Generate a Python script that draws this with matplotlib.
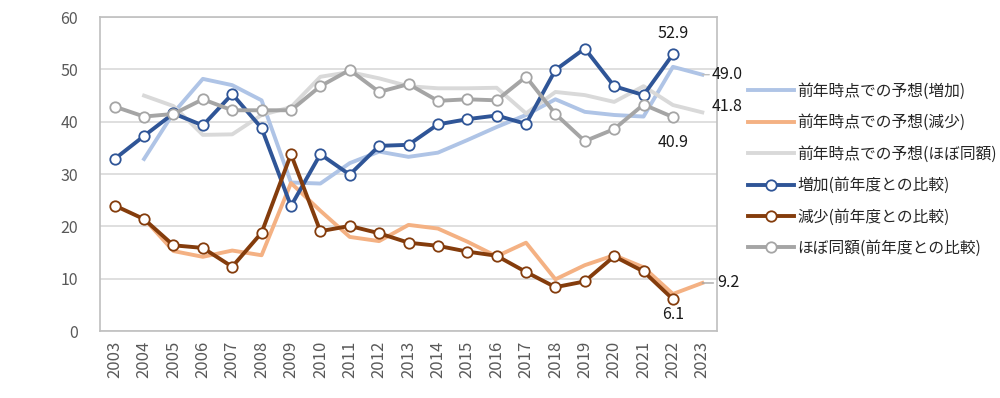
import matplotlib
matplotlib.use("Agg")
import matplotlib.pyplot as plt

plt.rcParams['font.family'] = ['Noto Sans CJK JP', 'DejaVu Sans']

years = list(range(2003, 2024))
year_labels = [str(y) for y in years]

# forecasts made in previous year (start 2004)
fc_years = list(range(2004, 2024))
fc_increase = [32.9, 41.7, 48.2, 47.0, 44.1, 28.4, 28.2, 32.1, 34.3, 33.3, 34.1, 36.5, 39.0, 41.3,
               44.3, 41.9, 41.3, 41.0, 50.5, 49.0]
fc_decrease = [21.5, 15.3, 14.2, 15.4, 14.5, 28.3, 23.0, 18.0, 17.2, 20.3, 19.6, 17.1, 14.3, 16.9,
               9.9, 12.6, 14.5, 12.2, 7.1, 9.2]
fc_same = [45.0, 43.0, 37.5, 37.6, 41.3, 42.8, 48.6, 49.5, 48.3, 46.8, 46.4, 46.4, 46.5, 41.6,
           45.7, 45.1, 43.8, 46.8, 43.2, 41.8]

# actual results (2003-2022)
act_years = list(range(2003, 2023))
act_increase = [32.9, 37.3, 41.6, 39.3, 45.3, 38.8, 23.9, 33.8, 29.9, 35.4, 35.6, 39.5, 40.5, 41.2,
                39.6, 49.9, 54.0, 46.8, 45.1, 52.9]
act_decrease = [24.0, 21.4, 16.4, 15.9, 12.3, 18.8, 33.8, 19.1, 20.1, 18.7, 16.9, 16.3, 15.2, 14.4,
                11.3, 8.4, 9.5, 14.3, 11.4, 6.1]
act_same = [42.9, 41.0, 41.5, 44.3, 42.2, 42.2, 42.2, 46.8, 49.9, 45.7, 47.2, 44.0, 44.3, 44.1,
            48.6, 41.5, 36.3, 38.6, 43.3, 40.9]

names = ['前年時点での予想(増加)', '前年時点での予想(減少)', '前年時点での予想(ほぼ同額)',
         '増加(前年度との比較)', '減少(前年度との比較)', 'ほぼ同額(前年度との比較)']
colors = ['#AFC4E6', '#F4B183', '#D9D9D9', '#2F5597', '#843C0C', '#A5A5A5']

fig = plt.figure(figsize=(10, 3.98), dpi=100)
ax = fig.add_axes([0.100, 0.168, 0.617, 0.789])

lw = 2.8
ax.plot(fc_years, fc_increase, color=colors[0], lw=lw, label=names[0], zorder=2)
ax.plot(fc_years, fc_decrease, color=colors[1], lw=lw, label=names[1], zorder=2)
ax.plot(fc_years, fc_same, color=colors[2], lw=lw, label=names[2], zorder=2)
mk = dict(marker='o', markersize=7.5, markerfacecolor='white', markeredgewidth=1.3)
ax.plot(act_years, act_increase, color=colors[3], lw=lw, label=names[3], markeredgecolor=colors[3], zorder=3, **mk)
ax.plot(act_years, act_decrease, color=colors[4], lw=lw, label=names[4], markeredgecolor=colors[4], zorder=3, **mk)
ax.plot(act_years, act_same, color=colors[5], lw=lw, label=names[5], markeredgecolor=colors[5], zorder=3, **mk)

ax.set_xlim(2002.5, 2023.5)
ax.set_ylim(0, 60)
ax.set_yticks(range(0, 61, 10))
ax.set_xticks(years)
ax.set_xticklabels(year_labels, rotation=90)
ax.grid(axis='y', color='#D9D9D9', lw=1.2)
ax.set_axisbelow(True)
for s in ax.spines.values():
    s.set_color('#BFBFBF')
    s.set_linewidth(1.2)
ax.tick_params(length=0, colors='#595959')
ax.tick_params(axis='x', labelsize=12, pad=7)
ax.tick_params(axis='y', labelsize=11.5, pad=16)

lab = dict(fontsize=11.5, color='#1a1a1a', zorder=5)
ax.annotate('52.9', (2022, act_increase[-1]), xytext=(0, 9), textcoords='offset points', ha='center', va='bottom', **lab)
ax.annotate('40.9', (2022, act_same[-1]), xytext=(0, -12), textcoords='offset points', ha='center', va='top', **lab)
ax.annotate('6.1', (2022, act_decrease[-1]), xytext=(0, -5), textcoords='offset points', ha='center', va='top', **lab)
ax.annotate('49.0', (2023, fc_increase[-1]), xytext=(7, 0), textcoords='offset points', ha='left', va='center',
            annotation_clip=False, arrowprops=dict(arrowstyle='-', color='#BFBFBF', lw=1, shrinkA=0, shrinkB=0), **lab)
ax.annotate('41.8', (2023, fc_same[-1]), xytext=(7, 4), textcoords='offset points', ha='left', va='center',
            annotation_clip=False, **lab)
ax.annotate('9.2', (2023, fc_decrease[-1]), xytext=(11, 0), textcoords='offset points', ha='left', va='center',
            annotation_clip=False, arrowprops=dict(arrowstyle='-', color='#A5A5A5', lw=1, shrinkA=1, shrinkB=0), **lab)

leg = fig.legend(loc='upper left', bbox_to_anchor=(0.742, 0.808), frameon=False, fontsize=11.3,
                 handlelength=2.9, handletextpad=0.2, labelspacing=0.92, borderaxespad=0)
for t in leg.get_texts():
    t.set_color('#262626')

fig.savefig('out.png', dpi=100)
